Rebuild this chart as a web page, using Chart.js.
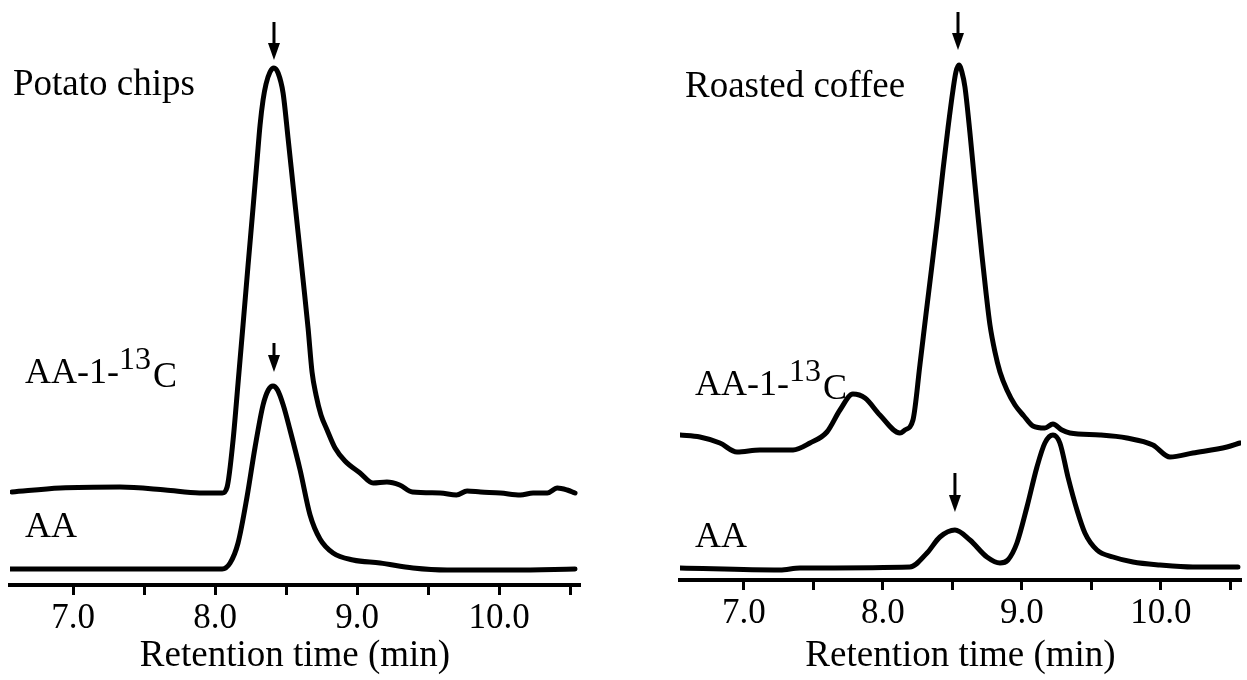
<!DOCTYPE html>
<html>
<head>
<meta charset="utf-8">
<title>Acrylamide chromatograms</title>
<script src="https://cdn.jsdelivr.net/npm/chart.js@4.4.1/dist/chart.umd.min.js"></script>
<style>
  body { margin: 0; background: #fff; }
  #wrap { position: relative; width: 1247px; height: 680px; }
  canvas { position: absolute; top: 0; }
  #chips { left: 0; }
  #coffee { left: 620px; }
</style>
</head>
<body>
<div id="wrap">
  <canvas id="chips" width="620" height="680"></canvas>
  <canvas id="coffee" width="627" height="680"></canvas>
</div>
<script>
// x axis: retention time (min)
var tickValues = [7.0, 7.5, 8.0, 8.5, 9.0, 9.5, 10.0, 10.5];
var tickLabels = ['7.0', '', '8.0', '', '9.0', '', '10.0', ''];

// Potato chips, AA-1-13C trace (signal = arbitrary units)
var chipsC13Time = [6.57, 6.91, 7.33, 7.65, 7.89, 8.05, 8.085, 8.127, 8.162, 8.197, 8.232, 8.268, 8.296, 8.317, 8.338,
    8.359, 8.387, 8.415, 8.444, 8.479, 8.514, 8.549, 8.585, 8.62, 8.655, 8.683, 8.711, 8.746, 8.789, 8.845, 8.915,
    9.021, 9.113, 9.21, 9.30, 9.39, 9.585, 9.70, 9.775, 9.87, 10.01, 10.15, 10.24, 10.34, 10.41, 10.48, 10.535];
var chipsC13Signal = [93, 97, 98, 95, 92, 92, 98, 145, 202, 260, 319, 378, 425, 460, 485,
    501, 513, 517, 512, 492, 447, 400, 352, 305, 257, 213, 190, 170, 155, 137, 124,
    112, 102, 103, 100, 93, 92, 90, 94, 93, 92, 90, 92, 92, 97, 95, 92];

// Potato chips, AA trace
var chipsAATime = [6.556, 7.19, 8.05, 8.106, 8.162, 8.225, 8.282, 8.338, 8.375, 8.408, 8.44, 8.48, 8.528, 8.599,
    8.669, 8.739, 8.831, 8.972, 9.162, 9.394, 9.634, 10.099, 10.535];
var chipsAASignal = [16, 16, 16, 22, 42, 88, 138, 180, 195, 199, 195, 180, 155, 115,
    70, 46, 32, 25, 22, 17, 15, 15, 16];

// Roasted coffee, AA-1-13C trace
var coffeeC13Time = [6.54, 6.683, 6.827, 6.95, 7.115, 7.353, 7.475, 7.597, 7.691, 7.784, 7.871, 7.978, 8.122, 8.158,
    8.216, 8.266, 8.309, 8.353, 8.396, 8.432, 8.468, 8.504, 8.525, 8.547, 8.568, 8.59, 8.626, 8.655, 8.683, 8.712,
    8.741, 8.77, 8.806, 8.842, 8.892, 8.95, 9.014, 9.079, 9.165, 9.223, 9.288, 9.345, 9.561, 9.755, 9.942, 10.065,
    10.23, 10.475, 10.568];
var coffeeC13Signal = [145, 143, 137, 128, 130, 130, 137, 148, 170, 186, 182, 165, 147, 150,
    160, 215, 265, 315, 365, 410, 452, 490, 508, 515, 508, 493, 447, 405, 365, 325,
    288, 255, 228, 208, 190, 175, 164, 154, 152, 156, 150, 147, 145, 142, 135, 123,
    127, 133, 137];

// Roasted coffee, AA trace
var coffeeAATime = [6.54, 7.259, 7.403, 8.194, 8.317, 8.41, 8.518, 8.626, 8.748, 8.842, 8.899, 8.964, 9.036, 9.108,
    9.165, 9.223, 9.273, 9.331, 9.396, 9.453, 9.54, 9.655, 9.799, 9.993, 10.23, 10.554];
var coffeeAASignal = [12, 10, 12, 13, 27, 43, 50, 40, 23, 17, 20, 37, 73, 113,
    137, 145, 137, 103, 70, 47, 30, 23, 18, 15, 13, 13];

// arrows marking the acrylamide peaks: time, top of shaft, tip
var chipsArrowTime = [8.415, 8.415];
var chipsArrowTop = [563, 242];
var chipsArrowTip = [525, 213];
var coffeeArrowTime = [8.54, 8.518];
var coffeeArrowTop = [568, 107];
var coffeeArrowTip = [530, 68];

var serif = "'Liberation Serif', 'Times New Roman', serif";

function points(times, values) {
    return times.map(function (t, i) { return { x: t, y: values[i] }; });
}

function trace(times, values) {
    return {
        data: points(times, values),
        borderColor: '#000',
        borderWidth: 5,
        pointRadius: 0,
        fill: false,
        cubicInterpolationMode: 'monotone',
        borderJoinStyle: 'round',
        borderCapStyle: 'round'
    };
}

function drawIsotopeLabel(ctx, x, y) {
    ctx.font = '36px ' + serif;
    ctx.fillText('AA-1-', x, y);
    var w = ctx.measureText('AA-1-').width;
    ctx.font = '32px ' + serif;
    ctx.fillText('13', x + w, y - 14);
    var w2 = ctx.measureText('13').width;
    ctx.font = '36px ' + serif;
    ctx.fillText('C', x + w + w2 + 2, y + 4);
}

function notes(title, titlePos, isoPos, aaPos, arrowTime, arrowTop, arrowTip) {
    return {
        id: 'notes',
        afterDraw: function (chart) {
            var ctx = chart.ctx;
            var xs = chart.scales.x, ys = chart.scales.y;
            ctx.save();
            ctx.fillStyle = '#000';
            ctx.strokeStyle = '#000';
            ctx.textBaseline = 'alphabetic';
            ctx.textAlign = 'left';
            ctx.font = '37px ' + serif;
            ctx.fillText(title, titlePos[0], titlePos[1]);
            drawIsotopeLabel(ctx, isoPos[0], isoPos[1]);
            ctx.font = '36px ' + serif;
            ctx.fillText('AA', aaPos[0], aaPos[1]);

            for (var i = 0; i < arrowTime.length; i++) {
                var x = xs.getPixelForValue(arrowTime[i]);
                var y1 = ys.getPixelForValue(arrowTop[i]);
                var y2 = ys.getPixelForValue(arrowTip[i]);
                ctx.lineWidth = 3;
                ctx.beginPath();
                ctx.moveTo(x, y1);
                ctx.lineTo(x, y2 - 10);
                ctx.stroke();
                ctx.beginPath();
                ctx.moveTo(x - 6, y2 - 17);
                ctx.lineTo(x + 6, y2 - 17);
                ctx.lineTo(x, y2);
                ctx.closePath();
                ctx.fill();
            }
            ctx.restore();
        }
    };
}

function makeChart(id, datasets, xMin, xMax, yMax, pad, plugin) {
    return new Chart(document.getElementById(id).getContext('2d'), {
        type: 'line',
        data: { datasets: datasets },
        options: {
            responsive: false,
            animation: false,
            layout: { padding: { left: pad[0], right: pad[1], top: 0, bottom: 0 } },
            plugins: {
                legend: { display: false },
                tooltip: { enabled: false }
            },
            scales: {
                x: {
                    type: 'linear',
                    min: xMin,
                    max: xMax,
                    afterBuildTicks: function (scale) {
                        scale.ticks = tickValues.map(function (v) { return { value: v }; });
                    },
                    afterFit: function (scale) {
                        scale.height = 680 - yMax;
                    },
                    ticks: {
                        autoSkip: false,
                        maxRotation: 0,
                        minRotation: 0,
                        padding: 3,
                        color: '#000',
                        font: { family: serif, size: 35 },
                        callback: function (value) {
                            return tickLabels[tickValues.indexOf(value)];
                        }
                    },
                    grid: {
                        drawOnChartArea: false,
                        tickLength: 10,
                        tickWidth: 3,
                        tickColor: '#000',
                        color: '#000'
                    },
                    border: { display: true, color: '#000', width: 4 },
                    title: {
                        display: true,
                        text: 'Retention time (min)',
                        color: '#000',
                        font: { family: serif, size: 37 },
                        padding: { top: 0, bottom: 2 }
                    }
                },
                y: {
                    display: false,
                    min: 0,
                    max: yMax
                }
            }
        },
        plugins: [plugin]
    });
}

makeChart('chips',
    [trace(chipsC13Time, chipsC13Signal), trace(chipsAATime, chipsAASignal)],
    6.556, 10.57, 585, [10, 40],
    notes('Potato chips', [13, 95], [25, 383], [25, 537], chipsArrowTime, chipsArrowTop, chipsArrowTip));

makeChart('coffee',
    [trace(coffeeC13Time, coffeeC13Signal), trace(coffeeAATime, coffeeAASignal)],
    6.54, 10.576, 580, [60, 6],
    notes('Roasted coffee', [65, 97], [75, 395], [75, 547], coffeeArrowTime, coffeeArrowTop, coffeeArrowTip));
</script>
</body>
</html>
